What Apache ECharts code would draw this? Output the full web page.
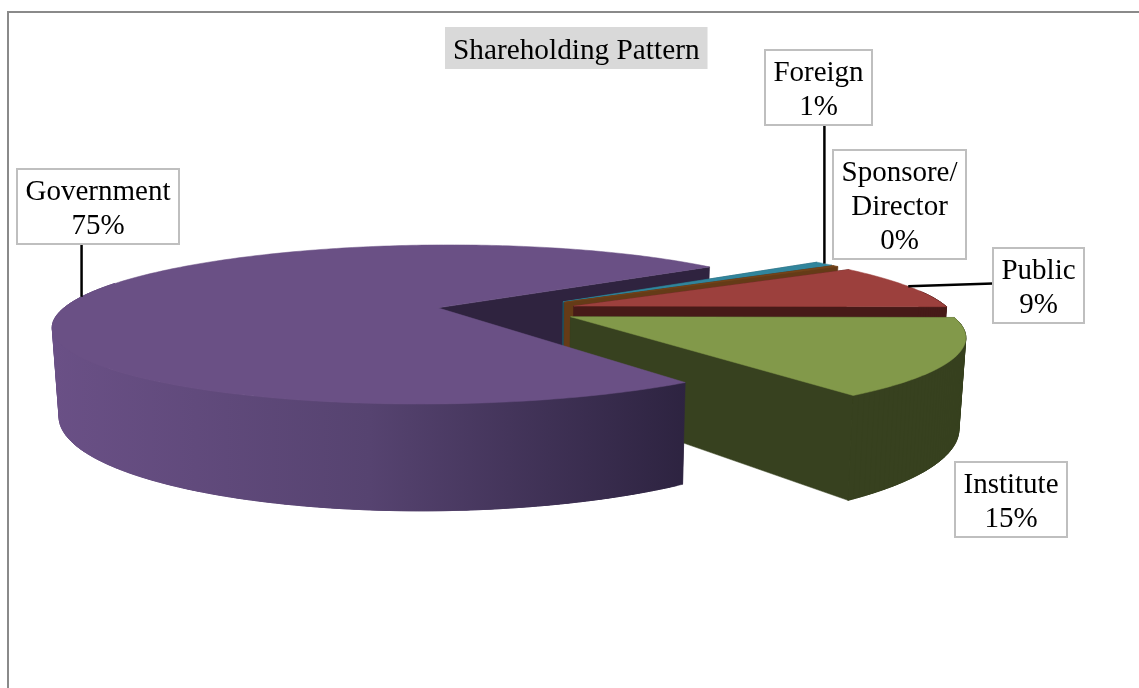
<!DOCTYPE html>
<html>
<head>
<meta charset="utf-8">
<title>Shareholding Pattern</title>
<style>
  html, body { margin: 0; padding: 0; background: #fff; }
  #chart { width: 1139px; height: 688px; }
</style>
<script src="https://cdn.jsdelivr.net/npm/echarts@6/dist/echarts.min.js"></script>
</head>
<body>
<div id="chart"></div>
<script>
// data, clockwise from the front corner of the big slice
var categories = ['Government', 'Foreign', 'Sponsore/\nDirector', 'Public', 'Institute'];
var shares = [74.5, 1.0, 0.3, 9.2, 15];

var topColors = ['#6a5085', '#31859c', '#74441a', '#9c403d', '#82994a'];
var wallColors = ['#2f233f', '#1e4e5c', '#653b17', '#471a18', '#37411f'];

// label boxes: left, top, right, bottom
var labelBoxes = [
  [17, 169, 179, 244],
  [765, 50, 872, 125],
  [833, 150, 966, 259],
  [993, 248, 1084, 323],
  [955, 462, 1067, 537]
];
// which edge the leader line goes to, null = no leader
var leaderSides = ['bottom', 'bottom', null, 'left', null];

// pie projection
var cx = 507, cy = 310;
var radiusX = 376, radiusY = 77, depth = 85;
var perspective = 0.21, bottomShrink = 0.985;
var explode = 0.187;
var startAngle = 54.5;

var total = shares.reduce(function (a, b) { return a + b; }, 0);
var slices = [];
var angle = startAngle;
shares.forEach(function (v) {
  var sweep = v / total * 360;
  slices.push({ from: angle, to: angle + sweep, mid: angle + sweep / 2 });
  angle += sweep;
});

// u,v on the unit disc, level 0 = top face, 1 = bottom face
function project(u, v, level) {
  var d = 1 - perspective * v;
  var k = level ? bottomShrink : 1;
  return [
    cx + radiusX * u / d * k,
    cy + (radiusY * v + depth * level) / d
  ];
}
function rad(a) { return a * Math.PI / 180; }
function hub(s) {
  return [explode * Math.cos(rad(s.mid)), explode * Math.sin(rad(s.mid))];
}
function rimPoint(s, a, level) {
  var h = hub(s);
  return project(h[0] + Math.cos(rad(a)), h[1] + Math.sin(rad(a)), level);
}
function rim(s, from, to, level) {
  var pts = [];
  var n = Math.max(2, Math.ceil(to - from));
  for (var i = 0; i <= n; i++) {
    pts.push(rimPoint(s, from + (to - from) * i / n, level));
  }
  return pts;
}
function cutWall(s, a) {
  var h = hub(s);
  return [project(h[0], h[1], 0), rimPoint(s, a, 0), rimPoint(s, a, 1), project(h[0], h[1], 1)];
}
function poly(points, fill) {
  return {
    type: 'polygon',
    shape: { points: points },
    style: { fill: fill, stroke: fill, lineWidth: 0.5 }
  };
}

// big slice wall gets darker to the right
var governmentWall = {
  type: 'linear', x: 52, y: 0, x2: 687, y2: 0, global: true,
  colorStops: [
    { offset: 0, color: '#6a5086' },
    { offset: 0.5, color: '#564370' },
    { offset: 1, color: '#2d2340' }
  ]
};

// back to front. the big slice is split because its cut face sits behind the small slices
var drawOrder = [[0, 0], [1, 2], [2, 2], [3, 2], [4, 2], [0, 1]];

function renderSlice(params, api) {
  var i = api.value(0);
  var part = api.value(1);
  var s = slices[i];
  var children = [];
  if (part === 0 || part === 2) {
    children.push(poly(cutWall(s, s.from), wallColors[i]));
    children.push(poly(cutWall(s, s.to), wallColors[i]));
  }
  if (part === 1 || part === 2) {
    var h = hub(s);
    // outer wall only where it faces the viewer.
    // strips keep the silhouette convex, each one overlaps the next so no seams show
    var wallFrom = s.from >= 200 ? Math.max(s.from, 348) : s.from;
    var wallTo = s.from < 200 ? Math.min(s.to, 200) : s.to;
    if (wallTo > wallFrom) {
      var upper = rim(s, wallFrom, wallTo, 0);
      var lower = rim(s, wallFrom, wallTo, 1);
      var last = upper.length - 1;
      for (var k = 0; k < last; k++) {
        var next = Math.min(k + 3, last);
        children.push(poly(upper.slice(k, next + 1).concat(lower.slice(k, next + 1).reverse()),
          i === 0 ? governmentWall : wallColors[i]));
      }
    }
    children.push(poly([project(h[0], h[1], 0)].concat(rim(s, s.from, s.to, 0)), topColors[i]));
  }
  return { type: 'group', children: children };
}

function renderLabel(params, api) {
  var i = api.value(0);
  var box = labelBoxes[i];
  var children = [];
  var p = rimPoint(slices[i], slices[i].mid, 0);
  if (leaderSides[i] === 'bottom') {
    children.push({ type: 'line', shape: { x1: p[0], y1: p[1], x2: p[0], y2: box[3] },
      style: { stroke: '#000', lineWidth: 2.5 } });
  } else if (leaderSides[i] === 'left') {
    children.push({ type: 'line', shape: { x1: p[0], y1: p[1], x2: box[0], y2: (box[1] + box[3]) / 2 - 2 },
      style: { stroke: '#000', lineWidth: 2.5 } });
  }
  children.push({
    type: 'rect',
    shape: { x: box[0], y: box[1], width: box[2] - box[0], height: box[3] - box[1] },
    style: { fill: '#fff', stroke: '#bfbfbf', lineWidth: 2 }
  });
  children.push({
    type: 'text',
    style: {
      x: (box[0] + box[2]) / 2,
      y: (box[1] + box[3]) / 2 + 3,
      text: categories[i] + '\n' + Math.round(shares[i]) + '%',
      font: '29px "Liberation Serif"',
      lineHeight: 34,
      fill: '#000',
      align: 'center',
      verticalAlign: 'middle'
    }
  });
  return { type: 'group', children: children };
}

var myChart = echarts.init(document.getElementById('chart'));
myChart.setOption({
  animation: false,
  backgroundColor: '#fff',
  title: {
    text: 'Shareholding Pattern',
    left: 445,
    top: 27,
    padding: [7, 8, 1, 8],
    backgroundColor: '#d9d9d9',
    textStyle: {
      fontFamily: 'Liberation Serif',
      fontSize: 29.3,
      fontWeight: 'normal',
      lineHeight: 34,
      color: '#000'
    }
  },
  graphic: [{
    type: 'polyline',
    silent: true,
    shape: { points: [[8, 688], [8, 12], [1139, 12]] },
    style: { stroke: '#8a8a8a', lineWidth: 2, fill: 'none' }
  }],
  series: [
    {
      type: 'custom',
      coordinateSystem: 'none',
      silent: true,
      renderItem: renderSlice,
      data: drawOrder
    },
    {
      type: 'custom',
      coordinateSystem: 'none',
      silent: true,
      renderItem: renderLabel,
      data: categories.map(function (c, i) { return [i]; })
    }
  ]
});
</script>
</body>
</html>
